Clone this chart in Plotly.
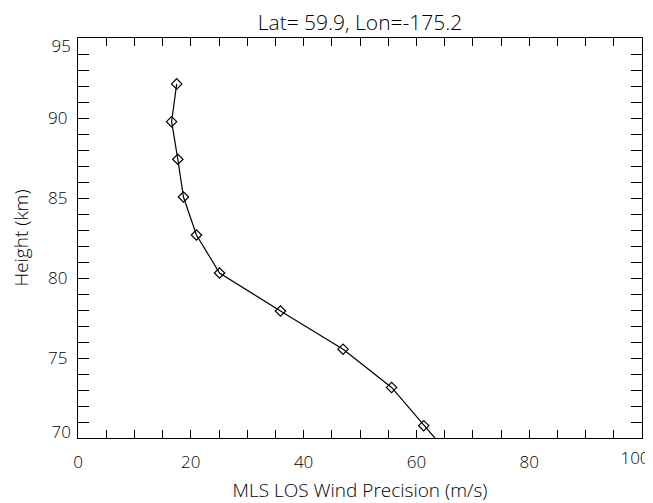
import plotly.graph_objects as go

# Data
precision = [17.5, 16.6, 17.7, 18.7, 21.0, 25.1, 35.9, 47.0, 55.6, 61.3, 67.2]
height = [92.13, 89.77, 87.42, 85.06, 82.69, 80.31, 77.94, 75.55, 73.16, 70.77, 68.39]

x_ticks = [0, 20, 40, 60, 80, 100]
y_ticks = [70, 75, 80, 85, 90, 95]

title_text = "Lat= 59.9, Lon=-175.2"
x_title = "MLS LOS Wind Precision (m/s)"
y_title = "Height (km)"

FONT = "Open Sans"
fnt = dict(family=FONT, size=17, color="black", weight=300)
tfnt = dict(family=FONT, size=19, color="black", weight=300)

# the page body adds an 8px offset; the figure is sized so it still ends at the window edge
W, H = 645, 495

fig = go.Figure()
fig.add_trace(go.Scatter(
    x=precision, y=height, mode="lines+markers",
    line=dict(color="black", width=1.2),
    marker=dict(symbol="diamond-open", size=8, color="black", line=dict(width=1.2)),
    cliponaxis=True, showlegend=False, hoverinfo="skip",
))
# invisible helper traces so the overlay axes (end labels) are drawn
for xa, ya in [("x", "y2"), ("x", "y3"), ("x2", "y")]:
    fig.add_trace(go.Scatter(x=precision, y=height, xaxis=xa, yaxis=ya, mode="lines",
                             line=dict(width=0, color="rgba(0,0,0,0)"),
                             showlegend=False, hoverinfo="skip"))

y_text_main = ["" if v in (70, 95) else str(v) for v in y_ticks]
x_text_main = ["" if v == 100 else str(v) for v in x_ticks]

fig.update_layout(
    width=W, height=H,
    margin=dict(l=70, r=11, t=30, b=65, autoexpand=False),
    paper_bgcolor="white", plot_bgcolor="white",
    font=fnt,
    title=dict(text=title_text, x=0.5, xanchor="center", xref="paper",
               y=1 - 15 / H, yanchor="middle", yref="container",
               font=dict(family=FONT, size=21, color="black", weight=300)),
    xaxis=dict(
        range=[0, 100], tickvals=x_ticks, ticktext=x_text_main,
        ticks="inside", ticklen=8, tickwidth=1, tickcolor="black",
        minor=dict(dtick=5, ticks="inside", ticklen=4, tickcolor="black", tickwidth=1),
        showline=True, linecolor="black", linewidth=1.3, mirror="allticks",
        showgrid=False, zeroline=False, automargin=False,
        tickfont=fnt, ticklabelstandoff=8, ticklabeloverflow="allow",
        title=dict(text=x_title, font=tfnt, standoff=12),
    ),
    xaxis2=dict(
        range=[0, 100], overlaying="x", side="bottom", tickvals=[100], ticktext=["100"],
        ticks="", showline=False, showgrid=False, zeroline=False, automargin=False,
        tickfont=fnt, ticklabelstandoff=8, ticklabeloverflow="allow", ticklabelshift=-7,
    ),
    yaxis=dict(
        range=[70, 95], tickvals=y_ticks, ticktext=y_text_main,
        ticks="inside", ticklen=11, tickwidth=1, tickcolor="black",
        minor=dict(dtick=1, ticks="inside", ticklen=6, tickcolor="black", tickwidth=1),
        showline=True, linecolor="black", linewidth=1.3, mirror="allticks",
        showgrid=False, zeroline=False, automargin=False,
        tickfont=fnt, ticklabelstandoff=6,
        title=dict(text=y_title, font=tfnt, standoff=14),
    ),
    yaxis2=dict(
        range=[70, 95], overlaying="y", side="left", tickvals=[95], ticktext=["95"],
        ticks="", showline=False, showgrid=False, zeroline=False, automargin=False,
        tickfont=fnt, ticklabelstandoff=6, ticklabelshift=8,
    ),
    yaxis3=dict(
        range=[70, 95], overlaying="y", side="left", tickvals=[70], ticktext=["70"],
        ticks="", showline=False, showgrid=False, zeroline=False, automargin=False,
        tickfont=fnt, ticklabelstandoff=6, ticklabelshift=-6,
    ),
)

fig.write_html("out.html")
